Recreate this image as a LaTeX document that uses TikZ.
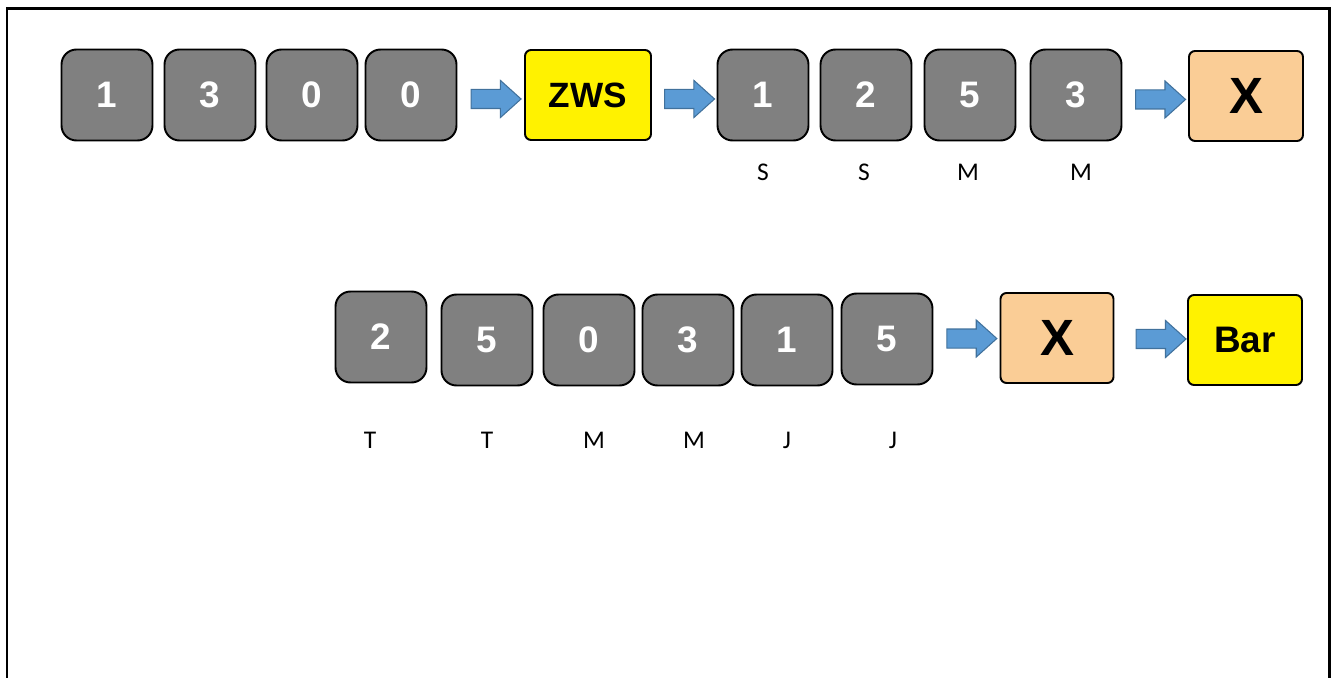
\documentclass[tikz,border=0pt]{standalone}
\usepackage{fontspec}
\setmainfont{Liberation Sans}
\newfontfamily\lblfont{Carlito}
\usetikzlibrary{shapes.arrows}
\definecolor{keygray}{RGB}{128,128,128}
\definecolor{peach}{RGB}{250,205,150}
\definecolor{arrowblue}{RGB}{91,155,213}
\definecolor{arrowedge}{RGB}{65,113,156}
\begin{document}
\begin{tikzpicture}[x=0.02cm,y=-0.02cm,
  key/.style={draw,line width=1.1pt,rounded corners=0.3cm,fill=keygray,text=white,
    font=\fontsize{21}{24}\selectfont\bfseries,minimum width=1.82cm,minimum height=1.82cm},
  result/.style={draw,line width=1.1pt,rounded corners=0.12cm,minimum height=1.8cm,inner sep=0pt},
  blockarrow/.style={single arrow,draw=arrowedge,fill=arrowblue,line width=0.6pt,
    minimum height=1cm,single arrow head extend=0.18cm,inner xsep=0pt,inner ysep=0.18cm,
    single arrow tip angle=84},
  lbl/.style={font=\lblfont\fontsize{14.5}{16}\selectfont}]
\useasboundingbox (0,0) rectangle (1335,678);
\draw[line width=0.06cm] (7,678) -- (7,9) -- (1329,9) -- (1329,678);

% first row
\node[key] (a0) at (107,95) {1};
\node[key] (a1) at (210,95) {3};
\node[key] (a2) at (312,95) {0};
\node[key] (a3) at (411,95) {0};
\node[result,fill=yellow,minimum width=2.52cm,font=\fontsize{20}{22}\selectfont\bfseries] (zws) at (588,95) {ZWS};
\node[key] (b0) at (763,95) {1};
\node[key] (b1) at (866,95) {2};
\node[key] (b2) at (970,95) {5};
\node[key] (b3) at (1076,95) {3};
\node[result,fill=peach,minimum width=2.28cm,font=\fontsize{29}{31}\selectfont\bfseries] (x1) at (1246,96) {X};

\path (a3) -- node[blockarrow,yshift=-0.08cm]{} (zws);
\path (zws) -- node[blockarrow,yshift=-0.08cm]{} (b0);
\path (b3) -- node[blockarrow,yshift=-0.08cm]{} (x1);

\node[lbl] (s0) at (763,172) {S};
\node[lbl] (s1) at (864,172) {S};
\node[lbl] (s2) at (968,172) {M};
\node[lbl] (s3) at (1081,172) {M};

% second row
\node[key] (c0) at (381,337) {2};
\node[key] (c1) at (487,340) {5};
\node[key] (c2) at (589,340) {0};
\node[key] (c3) at (688,340) {3};
\node[key] (c4) at (787,340) {1};
\node[key] (c5) at (887,339) {5};
\node[result,fill=peach,minimum width=2.26cm,font=\fontsize{29}{31}\selectfont\bfseries] (x2) at (1057,338) {X};
\node[result,fill=yellow,minimum width=2.28cm,font=\fontsize{21}{23}\selectfont\bfseries] (bar) at (1245,340) {Bar};

\path (c5) -- node[blockarrow]{} (x2);
\path (x2) -- node[blockarrow,xshift=0.1cm]{} (bar);

\node[lbl] (t0) at (370,440) {T};
\node[lbl] (t1) at (487,440) {T};
\node[lbl] (t2) at (594,440) {M};
\node[lbl] (t3) at (694,440) {M};
\node[lbl] (t4) at (787,440) {J};
\node[lbl] (t5) at (893,440) {J};
\end{tikzpicture}
\end{document}
